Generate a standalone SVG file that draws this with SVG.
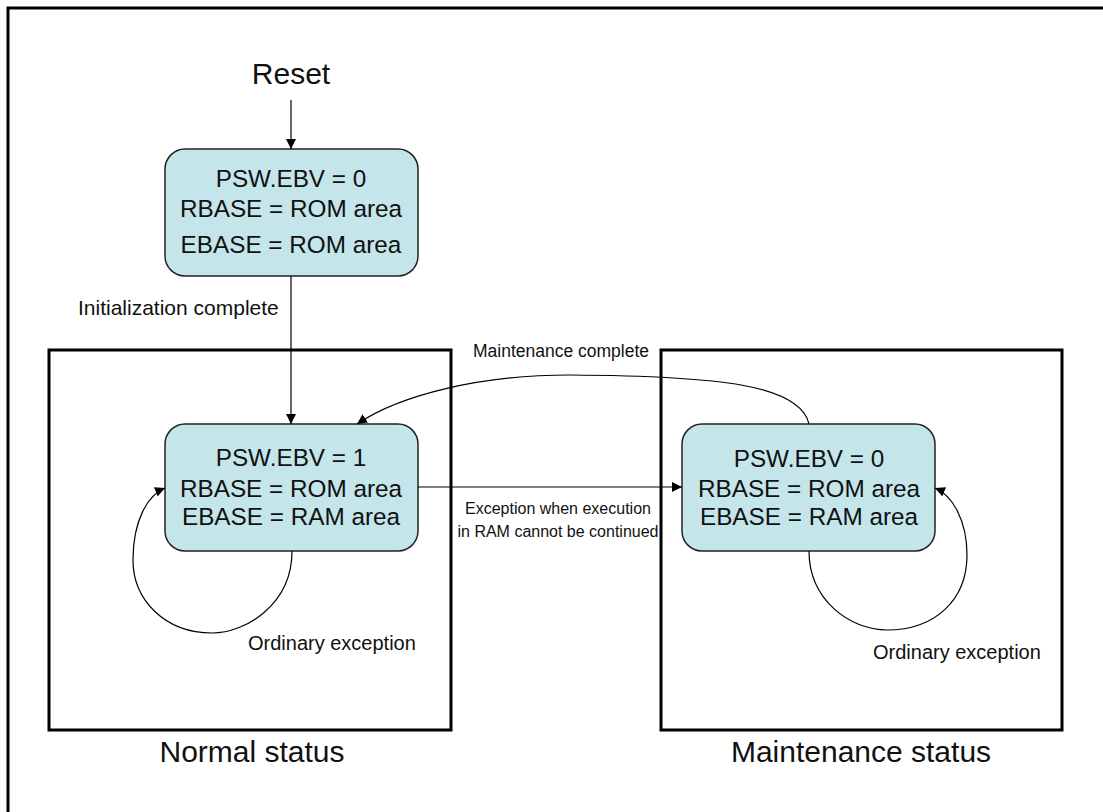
<svg xmlns="http://www.w3.org/2000/svg" width="1103" height="812" viewBox="0 0 1103 812">
<style>
text{font-family:"Liberation Sans",Arial,sans-serif;fill:#111}
.node{fill:#C4E6EA;stroke:#222;stroke-width:1.5}
.frame{fill:none;stroke:#000;stroke-width:3}
.nt{font-size:24.3px;text-anchor:middle}
.lbl{font-size:20px}
.big{font-size:30px;text-anchor:middle}
.c{fill:none;stroke:#000;stroke-width:1.2}
</style>
<defs>
<marker id="ah" viewBox="0 0 10 10" refX="10" refY="5" markerWidth="10" markerHeight="10" markerUnits="userSpaceOnUse" orient="auto">
<path d="M0,0 L10,5 L0,10 z" fill="#000"/>
</marker>
</defs>
<rect class="frame" x="8" y="8" width="1110" height="820"/>
<g id="normal-status">
<rect class="frame" x="49" y="350" width="402" height="380"/>
<text class="big" x="252" y="762">Normal status</text>
</g>
<g id="maintenance-status">
<rect class="frame" x="661" y="350" width="401" height="380"/>
<text class="big" x="861" y="762">Maintenance status</text>
</g>
<g id="reset">
<text class="big" x="291" y="84">Reset</text>
</g>
<g id="node-init">
<rect class="node" x="165" y="149" width="253" height="127" rx="20"/>
<text class="nt" x="291" y="187">PSW.EBV = 0</text>
<text class="nt" x="291" y="217">RBASE = ROM area</text>
<text class="nt" x="291" y="253">EBASE = ROM area</text>
</g>
<g id="node-normal">
<rect class="node" x="165" y="424" width="253" height="127" rx="20"/>
<text class="nt" x="291" y="466">PSW.EBV = 1</text>
<text class="nt" x="291" y="497">RBASE = ROM area</text>
<text class="nt" x="291" y="525">EBASE = RAM area</text>
</g>
<g id="node-maint">
<rect class="node" x="682" y="424" width="253" height="127" rx="20"/>
<text class="nt" x="809" y="467">PSW.EBV = 0</text>
<text class="nt" x="809" y="497">RBASE = ROM area</text>
<text class="nt" x="809" y="525">EBASE = RAM area</text>
</g>
<g id="connectors">
<path class="c" d="M291,100 L291,149" marker-end="url(#ah)"/>
<path class="c" d="M291,276 L291,424" marker-end="url(#ah)"/>
<path class="c" d="M418,487 L682,487" marker-end="url(#ah)"/>
<path class="c" d="M809,424 C800,385 720,376 570,375 C480,375 400,395 357,424" marker-end="url(#ah)"/>
<path class="c" d="M292,551 C292,605 245,633 212,633 C165,633 133,600 133,560 C133,520 148,495 165,488" marker-end="url(#ah)"/>
<path class="c" d="M809,551 C809,600 850,630 887,630 C935,630 967,600 967,555 C967,520 952,495 935,488" marker-end="url(#ah)"/>
<text x="78" y="315" style="font-size:21px">Initialization complete</text>
<text x="561" y="357" text-anchor="middle" style="font-size:17.5px">Maintenance complete</text>
<text x="558" y="514" text-anchor="middle" style="font-size:16px">Exception when execution</text>
<text x="558" y="537" text-anchor="middle" style="font-size:16px">in RAM cannot be continued</text>
<text class="lbl" x="248" y="650">Ordinary exception</text>
<text class="lbl" x="873" y="659">Ordinary exception</text>
</g>
</svg>
